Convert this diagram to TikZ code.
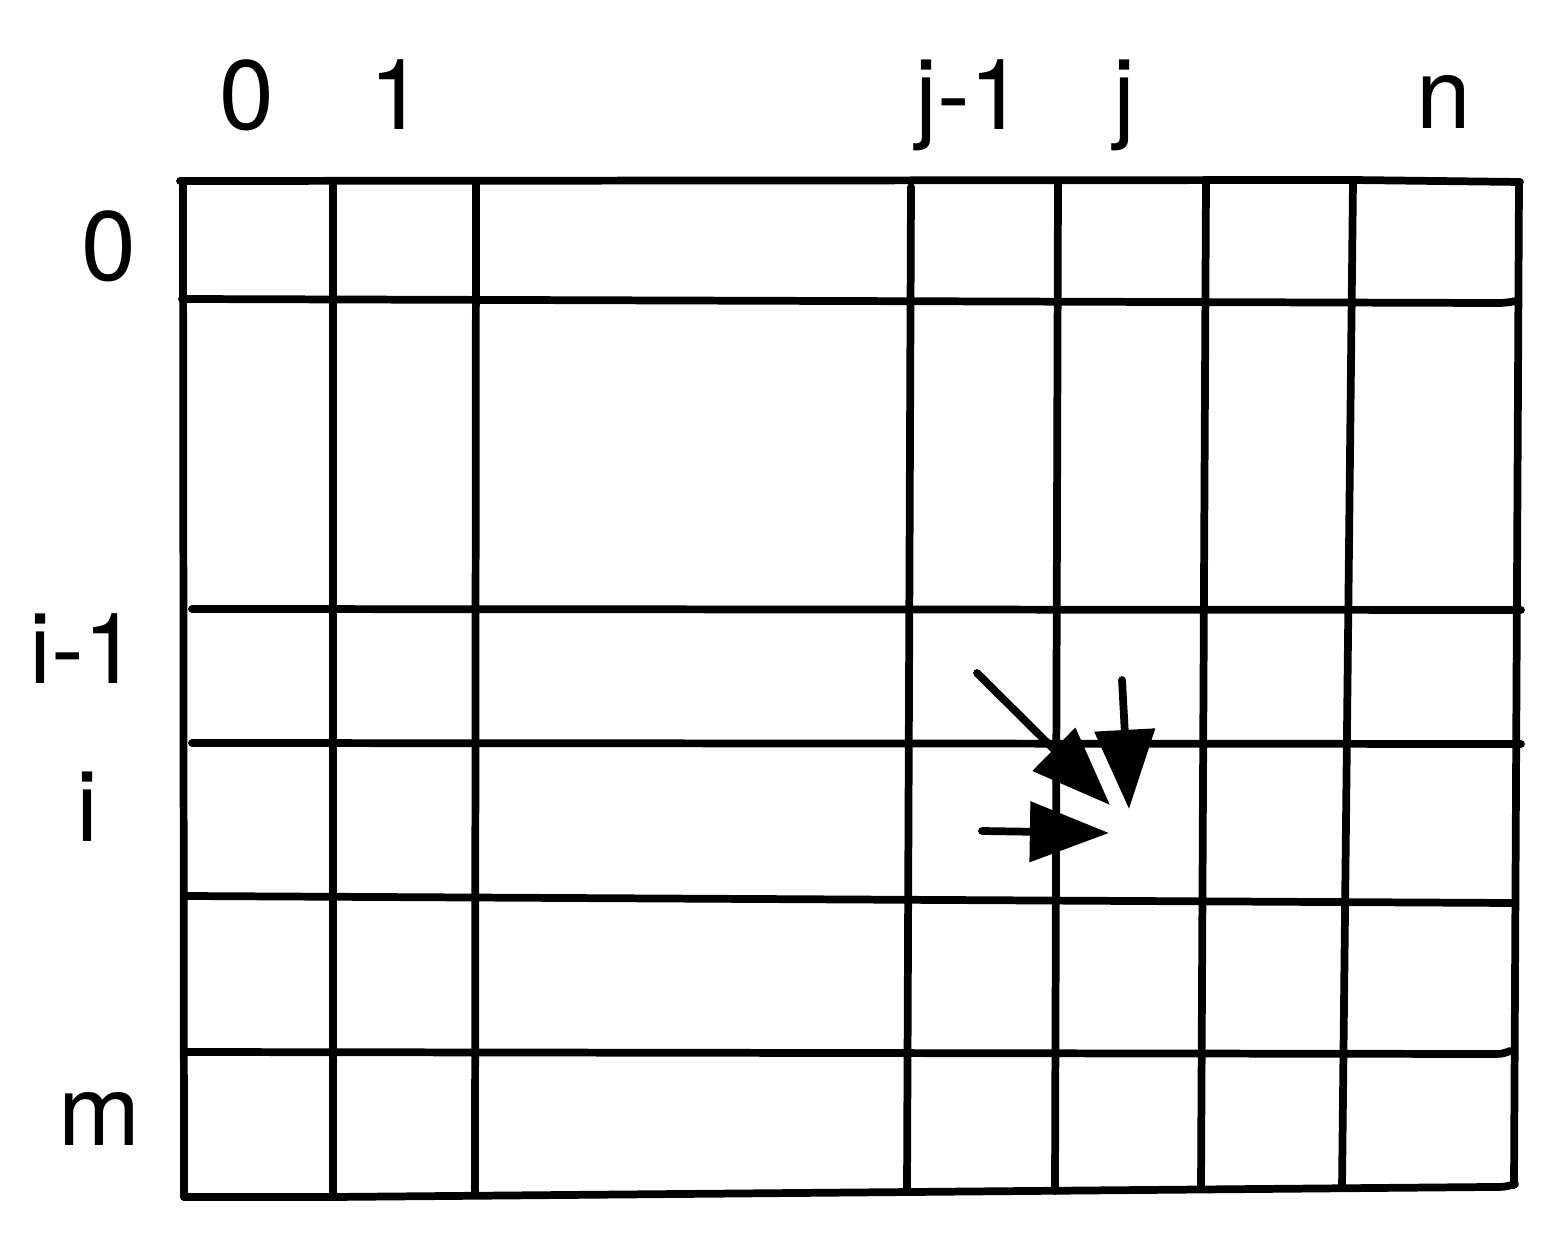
\documentclass[tikz,border=0pt]{standalone}
\usepackage{fontspec}
\setmainfont{TeX Gyre Heros}
\usetikzlibrary{arrows.meta}
\begin{document}
\begin{tikzpicture}[x=0.01cm,y=-0.01cm,
  gridline/.style={line width=2.2pt,line cap=round,line join=round},
  lbl/.style={inner sep=0pt,anchor=base,font=\fontsize{28}{34}\selectfont},
  ptr/.style={line width=2.2pt,line cap=round,-{Triangle[length=22.5pt,width=16.8pt]}}]
\useasboundingbox (0,0) rectangle (1542,1240);
% horizontal lines
\draw[gridline] (180,181) -- (1352,180) -- (1520,182);
\draw[gridline] (182,299) -- (1490,303) .. controls (1505,303) .. (1516,301);
\draw[gridline] (192,609) -- (1521,610);
\draw[gridline] (192,743) -- (1521,744);
\draw[gridline] (185,896) -- (1512,903);
\draw[gridline] (185,1052) -- (1490,1054) .. controls (1502,1054) .. (1510,1051);
\draw[gridline] (184,1197) -- (333,1197) -- (1490,1187) .. controls (1505,1187) .. (1515,1184);
% vertical lines
\draw[gridline] (183,181) -- (184,1197);
\draw[gridline] (333,181) -- (333,1196);
\draw[gridline] (476,181) -- (475,1194);
\draw[gridline] (911,187) -- (907,1192);
\draw[gridline] (1058,181) -- (1055,1191);
\draw[gridline] (1206,181) -- (1201,1189);
\draw[gridline] (1353,181) -- (1342,1188);
\draw[gridline] (1519,182) -- (1514,1185);
% column labels
\node[lbl] (c0) at (247,130) {0};
\node[lbl] (c1) at (397,130) {1};
\node[lbl] (cj1) at (970,130) {j-1};
\node[lbl] (cj) at (1124,130) {j};
\node[lbl] (cn) at (1444,129) {n};
% row labels
\node[lbl] (r0) at (109,281) {0};
\node[lbl] (ri1) at (84,684) {i-1};
\node[lbl] (ri) at (87,842) {i};
\node[lbl] (rm) at (100,1145) {m};
% arrows
\coordinate (d0) at (977,673);
\coordinate (d1) at (1110,805);
\coordinate (u0) at (1122,680);
\coordinate (u1) at (1129,809);
\coordinate (l0) at (982,831);
\coordinate (l1) at (1109,833);
\draw[ptr] (d0) -- (d1);
\draw[ptr] (u0) -- (u1);
\draw[ptr] (l0) -- (l1);
\end{tikzpicture}
\end{document}
